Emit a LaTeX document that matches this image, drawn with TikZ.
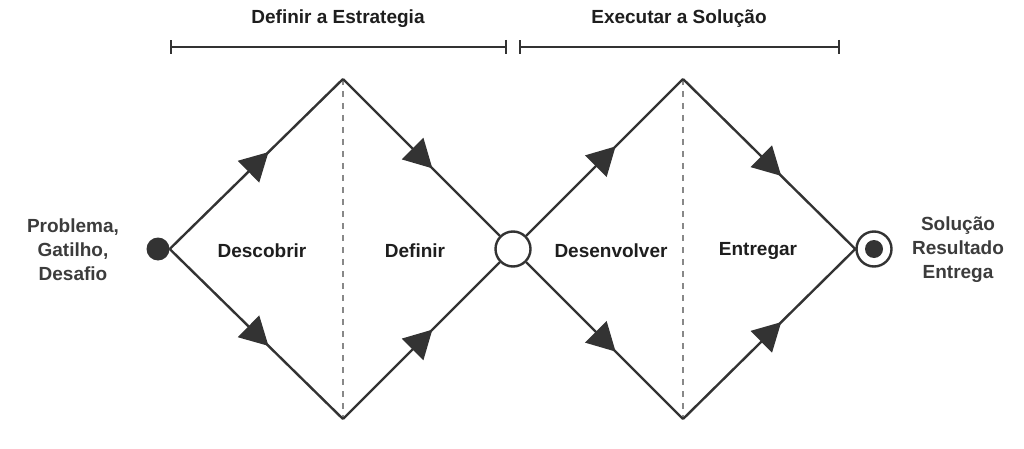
\documentclass[tikz,border=0pt]{standalone}
\usepackage{fontspec}
\setmainfont{Liberation Sans}
\usetikzlibrary{arrows.meta,decorations.markings,backgrounds}
\definecolor{linec}{HTML}{333333}
\definecolor{dashc}{HTML}{888888}
\definecolor{textc}{HTML}{1E1E1E}
\definecolor{sidec}{HTML}{3C3C3C}
\begin{document}
\begin{tikzpicture}[x=1pt,y=-1pt,
  line/.style={draw=linec, line width=2.4pt},
  flow/.style={line, decoration={markings, mark=at position 0.57 with {\arrow[linec]{Triangle[length=28pt,width=30pt]}}}, postaction={decorate}},
  dashline/.style={draw=dashc, line width=1.6pt, dash pattern=on 6pt off 6pt},
  bracket/.style={line, {Bar[width=14pt,line width=2.4pt]}-{Bar[width=14pt,line width=2.4pt]}},
  lab/.style={font=\fontsize{19}{24}\selectfont\bfseries, text=textc, inner sep=0pt},
  side/.style={font=\fontsize{19}{24}\selectfont\bfseries, text=sidec, align=center, inner sep=0pt},
  title/.style={font=\fontsize{19}{24}\selectfont\bfseries, text=textc, inner sep=0pt}
]
\useasboundingbox[fill=white] (0,0) rectangle (1024,449);

% points
\coordinate (t1) at (343,79);
\coordinate (b1) at (343,419);
\coordinate (t2) at (683,79);
\coordinate (b2) at (683,419);

% nodes
\node[circle, fill=linec, minimum size=23pt, inner sep=0pt] (s) at (158,249) {};
\node[circle, draw=linec, line width=2.4pt, fill=white, minimum size=35pt, inner sep=0pt] (m) at (513,249) {};
\node[circle, draw=linec, line width=2.4pt, fill=white, minimum size=35pt, inner sep=0pt] (e) at (874,249) {};
\node[circle, fill=linec, minimum size=18pt, inner sep=0pt] (ei) at (e) {};

% dashed dividers
\draw[dashline] (t1) -- (b1);
\draw[dashline] (t2) -- (b2);

% flows
\draw[flow] (s.east) -- (t1);
\draw[flow] (s.east) -- (b1);
\draw[flow] (t1) -- (m);
\draw[flow] (b1) -- (m);
\draw[flow] (m) -- (t2);
\draw[flow] (m) -- (b2);
\draw[flow] (t2) -- (e.west);
\draw[flow] (b2) -- (e.west);

% brackets
\coordinate (ba1) at (170,47);
\coordinate (bb1) at (507,47);
\coordinate (ba2) at (519,47);
\coordinate (bb2) at (840,47);
\draw[bracket] (ba1) -- (bb1);
\draw[bracket] (ba2) -- (bb2);

% titles
\node[title] (h1) at (338,19) {Definir a Estrategia};
\node[title] (h2) at (679,19) {Executar a Solução};

% labels
\node[lab] (l1) at (262,251) {Descobrir};
\node[lab] (l2) at (415,251) {Definir};
\node[lab] (l3) at (611,251) {Desenvolver};
\node[lab] (l4) at (758,251) {Entregar};

\node[side] (in) at (73,250) {Problema,\\Gatilho,\\Desafio};
\node[side] (out) at (958,250) {Solução\\Resultado\\Entrega};
\end{tikzpicture}
\end{document}
